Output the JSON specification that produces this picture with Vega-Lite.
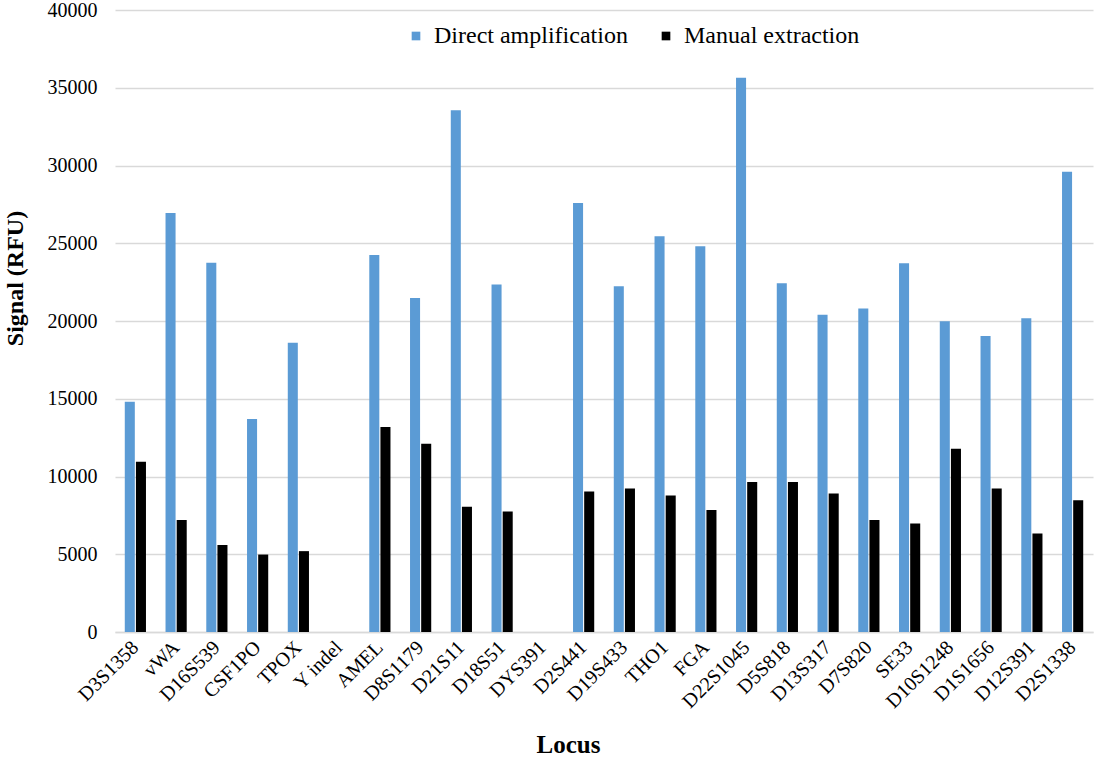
{
  "$schema": "https://vega.github.io/schema/vega-lite/v6.json",
  "width": 978,
  "height": 622,
  "autosize": "none",
  "padding": {"left": 115, "top": 10, "right": 7, "bottom": 126},
  "background": "white",
  "config": {
    "view": {"stroke": null},
    "font": "Liberation Serif"
  },
  "data": {
    "values": [
      {"locus": "D3S1358", "method": "Direct amplification", "signal": 14800},
      {"locus": "D3S1358", "method": "Manual extraction", "signal": 10950},
      {"locus": "vWA", "method": "Direct amplification", "signal": 26950},
      {"locus": "vWA", "method": "Manual extraction", "signal": 7200},
      {"locus": "D16S539", "method": "Direct amplification", "signal": 23750},
      {"locus": "D16S539", "method": "Manual extraction", "signal": 5600},
      {"locus": "CSF1PO", "method": "Direct amplification", "signal": 13700},
      {"locus": "CSF1PO", "method": "Manual extraction", "signal": 4980},
      {"locus": "TPOX", "method": "Direct amplification", "signal": 18600},
      {"locus": "TPOX", "method": "Manual extraction", "signal": 5200},
      {"locus": "Y indel", "method": "Direct amplification", "signal": 0},
      {"locus": "Y indel", "method": "Manual extraction", "signal": 0},
      {"locus": "AMEL", "method": "Direct amplification", "signal": 24250},
      {"locus": "AMEL", "method": "Manual extraction", "signal": 13180},
      {"locus": "D8S1179", "method": "Direct amplification", "signal": 21480},
      {"locus": "D8S1179", "method": "Manual extraction", "signal": 12110},
      {"locus": "D21S11", "method": "Direct amplification", "signal": 33550},
      {"locus": "D21S11", "method": "Manual extraction", "signal": 8060},
      {"locus": "D18S51", "method": "Direct amplification", "signal": 22340},
      {"locus": "D18S51", "method": "Manual extraction", "signal": 7750},
      {"locus": "DYS391", "method": "Direct amplification", "signal": 0},
      {"locus": "DYS391", "method": "Manual extraction", "signal": 0},
      {"locus": "D2S441", "method": "Direct amplification", "signal": 27590},
      {"locus": "D2S441", "method": "Manual extraction", "signal": 9030},
      {"locus": "D19S433", "method": "Direct amplification", "signal": 22230},
      {"locus": "D19S433", "method": "Manual extraction", "signal": 9230},
      {"locus": "THO1", "method": "Direct amplification", "signal": 25450},
      {"locus": "THO1", "method": "Manual extraction", "signal": 8780},
      {"locus": "FGA", "method": "Direct amplification", "signal": 24800},
      {"locus": "FGA", "method": "Manual extraction", "signal": 7840},
      {"locus": "D22S1045", "method": "Direct amplification", "signal": 35650},
      {"locus": "D22S1045", "method": "Manual extraction", "signal": 9640},
      {"locus": "D5S818", "method": "Direct amplification", "signal": 22430},
      {"locus": "D5S818", "method": "Manual extraction", "signal": 9640},
      {"locus": "D13S317", "method": "Direct amplification", "signal": 20400},
      {"locus": "D13S317", "method": "Manual extraction", "signal": 8900},
      {"locus": "D7S820", "method": "Direct amplification", "signal": 20810},
      {"locus": "D7S820", "method": "Manual extraction", "signal": 7210},
      {"locus": "SE33", "method": "Direct amplification", "signal": 23720},
      {"locus": "SE33", "method": "Manual extraction", "signal": 6980},
      {"locus": "D10S1248", "method": "Direct amplification", "signal": 19980},
      {"locus": "D10S1248", "method": "Manual extraction", "signal": 11780},
      {"locus": "D1S1656", "method": "Direct amplification", "signal": 19030},
      {"locus": "D1S1656", "method": "Manual extraction", "signal": 9230},
      {"locus": "D12S391", "method": "Direct amplification", "signal": 20180},
      {"locus": "D12S391", "method": "Manual extraction", "signal": 6330},
      {"locus": "D2S1338", "method": "Direct amplification", "signal": 29600},
      {"locus": "D2S1338", "method": "Manual extraction", "signal": 8470}
    ]
  },
  "mark": {"type": "bar"},
  "encoding": {
    "x": {
      "field": "locus",
      "type": "nominal",
      "sort": null,
      "scale": {"paddingInner": 0.48, "paddingOuter": 0.24},
      "axis": {
        "title": "Locus",
        "titleFont": "Liberation Serif",
        "titleFontSize": 25,
        "titleFontWeight": "bold",
        "titleColor": "#000000",
        "titleX": 453,
        "titleY": 120,
        "titleAlign": "center",
        "titleBaseline": "alphabetic",
        "labelAngle": -45,
        "labelAlign": "right",
        "labelBaseline": "middle",
        "labelFont": "Liberation Serif",
        "labelFontSize": 20,
        "labelColor": "#000000",
        "labelPadding": 12,
        "ticks": false,
        "domainColor": "#d9d9d9",
        "domainWidth": 1.5,
        "grid": false
      }
    },
    "xOffset": {
      "field": "method",
      "type": "nominal",
      "scale": {"paddingInner": 0.1}
    },
    "y": {
      "field": "signal",
      "type": "quantitative",
      "scale": {"domain": [0, 40000], "nice": false},
      "axis": {
        "title": "Signal (RFU)",
        "titleFont": "Liberation Serif",
        "titleFontSize": 24,
        "titleFontWeight": "bold",
        "titleColor": "#000000",
        "titleX": -88,
        "titleY": 268,
        "values": [0, 5000, 10000, 15000, 20000, 25000, 30000, 35000, 40000],
        "format": "d",
        "labelFont": "Liberation Serif",
        "labelFontSize": 20,
        "labelColor": "#000000",
        "labelPadding": 18,
        "ticks": false,
        "domain": false,
        "grid": true,
        "gridColor": "#d9d9d9",
        "gridWidth": 1.5
      }
    },
    "color": {
      "field": "method",
      "type": "nominal",
      "scale": {
        "domain": ["Direct amplification", "Manual extraction"],
        "range": ["#5b9bd5", "#000000"]
      },
      "legend": {
        "title": null,
        "orient": "none",
        "legendX": 289,
        "legendY": 14,
        "direction": "horizontal",
        "symbolType": "square",
        "symbolSize": 75,
        "symbolStrokeWidth": 0,
        "labelFont": "Liberation Serif",
        "labelFontSize": 24,
        "labelColor": "#000000",
        "labelOffset": 6,
        "columnPadding": 26,
        "labelLimit": 400
      }
    }
  }
}
